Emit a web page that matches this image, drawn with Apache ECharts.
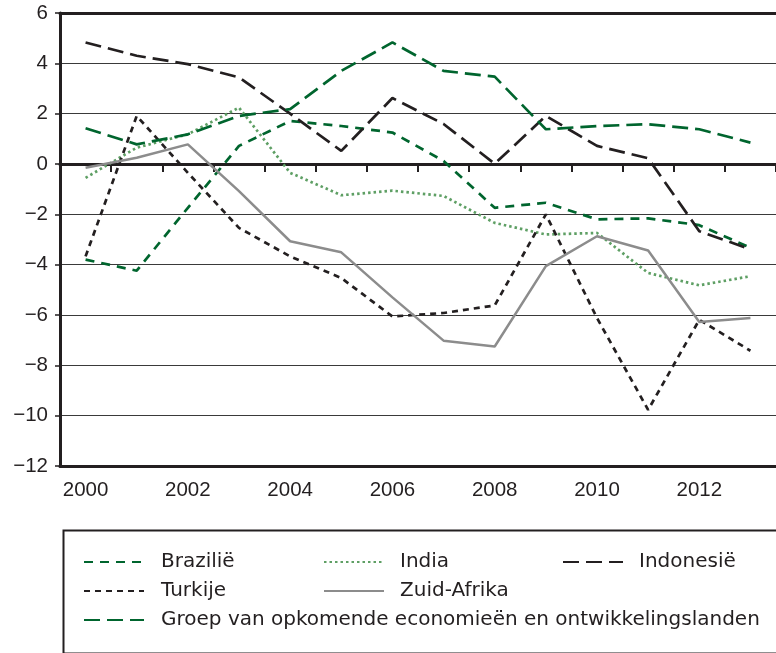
<!DOCTYPE html>
<html>
<head>
<meta charset="utf-8">
<script src="https://cdn.jsdelivr.net/npm/echarts@6/dist/echarts.min.js"></script>
<style>
  html, body { margin: 0; padding: 0; background: #fff; }
  #chart { width: 776px; height: 653px; }
</style>
</head>
<body>
<div id="chart"></div>
<script>
var years = ['2000', '2001', '2002', '2003', '2004', '2005', '2006', '2007', '2008', '2009', '2010', '2011', '2012', '2013'];

var brazilie = [-3.8, -4.24, -1.74, 0.72, 1.71, 1.51, 1.25, 0.12, -1.74, -1.54, -2.2, -2.16, -2.43, -3.33];
var india = [-0.55, 0.65, 1.18, 2.24, -0.35, -1.24, -1.06, -1.27, -2.34, -2.8, -2.74, -4.33, -4.82, -4.46];
var indonesie = [4.83, 4.3, 3.97, 3.44, 2.0, 0.52, 2.62, 1.59, 0.01, 1.91, 0.72, 0.23, -2.67, -3.39];
var turkije = [-3.67, 1.91, -0.35, -2.54, -3.67, -4.53, -6.06, -5.92, -5.62, -2.0, -6.12, -9.77, -6.19, -7.42];
var zuidAfrika = [-0.15, 0.25, 0.78, -1.08, -3.07, -3.51, -5.3, -7.02, -7.25, -4.06, -2.87, -3.44, -6.28, -6.12];
var groep = [1.42, 0.78, 1.18, 1.91, 2.18, 3.7, 4.83, 3.7, 3.47, 1.38, 1.51, 1.58, 1.38, 0.85];

var chart = echarts.init(document.getElementById('chart'));
var font = 'Liberation Sans, Arial, sans-serif';
var legendFont = 'DejaVu Sans, sans-serif';
var ink = '#231f20';

function line(name, data, color, dash, width) {
    return {
        name: name,
        type: 'line',
        data: data,
        symbol: 'none',
        lineStyle: {color: color, width: width || 2.7, type: dash},
        itemStyle: {color: color},
        z: 3
    };
}

function legendCol(left, names, pad) {
    return {
        orient: 'vertical',
        left: left,
        top: 552,
        height: 110,
        padding: 0,
        data: names,
        itemWidth: 60,
        itemHeight: 14,
        itemGap: 9,
        selectedMode: false,
        itemStyle: {opacity: 0},
        textStyle: {fontFamily: legendFont, fontSize: 20, color: ink, padding: [0, 0, 0, pad]}
    };
}

var option = {
    animation: false,
    grid: {left: 60, right: 0, top: 13, bottom: 187, containLabel: false},
    legend: [
        legendCol(83, ['Brazilië', 'Turkije', 'Groep van opkomende economieën en ontwikkelingslanden'], 12),
        legendCol(323, ['India', 'Zuid-Afrika'], 11),
        legendCol(562, ['Indonesië'], 11)
    ],
    graphic: [{
        type: 'rect',
        left: 61, top: 528,
        shape: {width: 740, height: 123},
        style: {fill: 'none', stroke: ink, lineWidth: 2}
    }],
    xAxis: [{
        type: 'category',
        data: years,
        position: 'bottom',
        boundaryGap: true,
        axisLine: {onZero: false, lineStyle: {color: ink, width: 3}},
        axisTick: {show: false},
        axisLabel: {
            interval: 1, margin: 14,
            fontFamily: font, fontSize: 20.5, color: ink
        }
    }, {
        type: 'category',
        data: years,
        position: 'bottom',
        boundaryGap: true,
        axisLine: {onZero: true, lineStyle: {color: ink, width: 3}},
        axisTick: {show: true, length: 8, lineStyle: {color: ink, width: 2}},
        axisLabel: {show: false}
    }, {
        type: 'category',
        data: years,
        position: 'top',
        boundaryGap: true,
        axisLine: {onZero: false, lineStyle: {color: ink, width: 3}},
        axisTick: {show: false},
        axisLabel: {show: false}
    }],
    yAxis: {
        type: 'value',
        min: -12,
        max: 6,
        interval: 2,
        axisLine: {show: true, lineStyle: {color: ink, width: 3}},
        axisTick: {show: true, length: 5, lineStyle: {color: ink, width: 1.5}},
        axisLabel: {
            margin: 12,
            fontFamily: font, fontSize: 20.5, color: ink,
            formatter: function (v) { return String(v).replace('-', '\u2212'); }
        },
        splitLine: {lineStyle: {color: '#3a3a3a', width: 1.2}}
    },
    series: [
        line('Brazilië', brazilie, '#00652e', [9, 7]),
        line('India', india, '#5e9f64', [2.5, 3]),
        line('Indonesië', indonesie, ink, [16, 7]),
        line('Turkije', turkije, ink, [6, 5]),
        line('Zuid-Afrika', zuidAfrika, '#8c8c8c', 'solid', 2.5),
        line('Groep van opkomende economieën en ontwikkelingslanden', groep, '#00652e', [16, 7])
    ]
};

chart.setOption(option);
</script>
</body>
</html>
